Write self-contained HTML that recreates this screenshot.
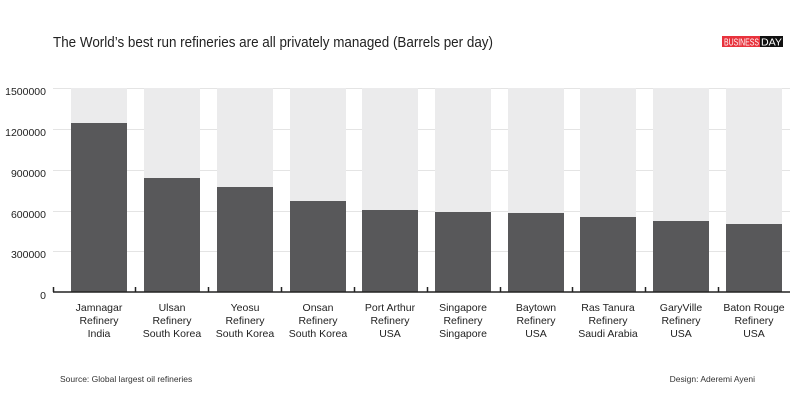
<!DOCTYPE html>
<html><head><style>
body{margin:0;background:#fff;}
svg text{font-family:"Liberation Sans Narrow","Liberation Sans",sans-serif;}
</style></head><body>
<svg width="800" height="400" xmlns="http://www.w3.org/2000/svg">
<rect width="800" height="400" fill="#fff"/>
<text x="53" y="47" font-size="15" fill="#222" textLength="440" lengthAdjust="spacingAndGlyphs">The World’s best run refineries are all privately managed (Barrels per day)</text>
<rect x="722" y="36" width="38" height="11" fill="#e8323c"/>
<rect x="760" y="36" width="23" height="11" fill="#111"/>
<text x="724" y="45.5" font-size="10" fill="#fff" font-family="Liberation Serif,serif" textLength="35" lengthAdjust="spacingAndGlyphs">BUSINESS</text>
<text x="761" y="45.5" font-size="10" fill="#fff" font-family="Liberation Serif,serif" textLength="21" lengthAdjust="spacingAndGlyphs">DAY</text>
<g id="bg"></g>
<g stroke="#e4e4e4" stroke-width="1">
<line x1="53" x2="790" y1="88.5" y2="88.5"/><line x1="53" x2="790" y1="129.5" y2="129.5"/><line x1="53" x2="790" y1="170.5" y2="170.5"/><line x1="53" x2="790" y1="211.5" y2="211.5"/><line x1="53" x2="790" y1="251.5" y2="251.5"/>
</g>
<g fill="#ebebec">
<rect x="71" y="88" width="56" height="204"/><rect x="144" y="88" width="56" height="204"/><rect x="217" y="88" width="56" height="204"/><rect x="290" y="88" width="56" height="204"/><rect x="362" y="88" width="56" height="204"/><rect x="435" y="88" width="56" height="204"/><rect x="508" y="88" width="56" height="204"/><rect x="580" y="88" width="56" height="204"/><rect x="653" y="88" width="56" height="204"/><rect x="726" y="88" width="56" height="204"/>
</g>
<g fill="#58585a">
<rect x="71" y="123" width="56" height="169"/><rect x="144" y="178" width="56" height="114"/><rect x="217" y="187" width="56" height="105"/><rect x="290" y="201" width="56" height="91"/><rect x="362" y="210" width="56" height="82"/><rect x="435" y="212" width="56" height="80"/><rect x="508" y="213" width="56" height="79"/><rect x="580" y="217" width="56" height="75"/><rect x="653" y="221" width="56" height="71"/><rect x="726" y="224" width="56" height="68"/>
</g>
<g stroke="#222" stroke-width="1.5">
<line x1="53" x2="790" y1="292" y2="292"/>
<line x1="53.5" x2="53.5" y1="287" y2="292"/><line x1="135.5" x2="135.5" y1="287" y2="292"/><line x1="208.5" x2="208.5" y1="287" y2="292"/><line x1="281.5" x2="281.5" y1="287" y2="292"/><line x1="354.5" x2="354.5" y1="287" y2="292"/><line x1="427.5" x2="427.5" y1="287" y2="292"/><line x1="500.5" x2="500.5" y1="287" y2="292"/><line x1="572.5" x2="572.5" y1="287" y2="292"/><line x1="645.5" x2="645.5" y1="287" y2="292"/><line x1="718.5" x2="718.5" y1="287" y2="292"/>
</g>
<g font-size="10.5" fill="#222" text-anchor="end">
<text x="46" y="95">1500000</text><text x="46" y="136">1200000</text><text x="46" y="177">900000</text><text x="46" y="218">600000</text><text x="46" y="258">300000</text><text x="46" y="299">0</text>
</g>
<g font-size="10.5" fill="#222" text-anchor="middle">
<text x="99" y="311">Jamnagar</text><text x="99" y="324">Refinery</text><text x="99" y="337">India</text>
<text x="172" y="311">Ulsan</text><text x="172" y="324">Refinery</text><text x="172" y="337">South Korea</text>
<text x="245" y="311">Yeosu</text><text x="245" y="324">Refinery</text><text x="245" y="337">South Korea</text>
<text x="318" y="311">Onsan</text><text x="318" y="324">Refinery</text><text x="318" y="337">South Korea</text>
<text x="390" y="311">Port Arthur</text><text x="390" y="324">Refinery</text><text x="390" y="337">USA</text>
<text x="463" y="311">Singapore</text><text x="463" y="324">Refinery</text><text x="463" y="337">Singapore</text>
<text x="536" y="311">Baytown</text><text x="536" y="324">Refinery</text><text x="536" y="337">USA</text>
<text x="608" y="311">Ras Tanura</text><text x="608" y="324">Refinery</text><text x="608" y="337">Saudi Arabia</text>
<text x="681" y="311">GaryVille</text><text x="681" y="324">Refinery</text><text x="681" y="337">USA</text>
<text x="754" y="311">Baton Rouge</text><text x="754" y="324">Refinery</text><text x="754" y="337">USA</text>
</g>
<text x="60" y="382" font-size="8.5" fill="#333">Source: Global largest oil refineries</text>
<text x="755" y="382" font-size="8.5" fill="#333" text-anchor="end">Design: Aderemi Ayeni</text>
</svg>
</body></html>
